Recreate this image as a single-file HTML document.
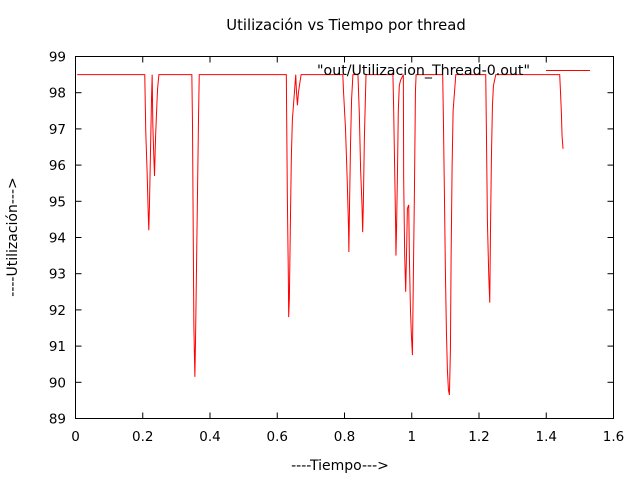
<!DOCTYPE html>
<html><head><meta charset="utf-8"><style>
body{margin:0;background:#fff;}
svg{display:block;font-family:"DejaVu Sans","Liberation Sans",sans-serif;}
</style></head><body>
<svg id="chart" width="640" height="480" xmlns="http://www.w3.org/2000/svg">
<rect width="640" height="480" fill="#fff"/>
<text x="346" y="30" font-size="14.8" text-anchor="middle">Utilización vs Tiempo por thread</text>
<text x="340" y="470" font-size="14" text-anchor="middle">----Tiempo---&gt;</text>
<text transform="translate(17,237) rotate(-90)" font-size="14" text-anchor="middle">----Utilización---&gt;</text>
<g id="axes"></g>
<path id="series" fill="none" stroke="#f00" stroke-width="1"/>
<text x="530" y="75" font-size="14.2" text-anchor="end">"out/Utilizacion_Thread-0.out"</text>
<line x1="546" y1="70.5" x2="590" y2="70.5" stroke="#f00"/>
<rect x="75.5" y="56.5" width="538" height="362" fill="none" stroke="#000"/>
</svg>
<script>
const xTicks=[0,0.2,0.4,0.6,0.8,1,1.2,1.4,1.6];
const xTickLabels=["0","0.2","0.4","0.6","0.8","1","1.2","1.4","1.6"];
const yTicks=[89,90,91,92,93,94,95,96,97,98,99];
const yTickLabels=["89","90","91","92","93","94","95","96","97","98","99"];
const times=[0.005,.206,.207,.209,.213,.216,.218,.220,.223,.226,.228,.230,.233,.235,.238,.241,.244,.248,
.346,.348,.350,.352,.355,.357,.360,.363,.366,.368,
.627,.628,.630,.633,.634,.636,.639,.642,.645,.655,.657,.660,.663,.666,.671,
.795,.797,.803,.808,.812,.813,.815,.818,.821,.825,
.840,.844,.848,.852,.854,.856,.859,.862,.864,
.944,.946,.949,.952,.953,.955,.958,.960,.963,.967,
.975,.976,.979,.982,.985,.987,.991,.993,.996,.999,1.002,1.005,1.008,1.011,1.013,
1.092,1.094,1.097,1.100,1.103,1.106,1.109,1.112,1.115,1.117,1.120,1.123,1.131,
1.220,1.222,1.225,1.229,1.232,1.234,1.237,1.240,1.243,1.250,
1.440,1.442,1.445,1.447,1.450];
const utilization=[98.5,98.5,97.95,96.9,95.8,94.75,94.2,94.9,96.35,97.8,98.5,97.1,96.2,95.7,96.75,97.45,98.1,98.5,
98.5,97.1,94.3,91.55,90.15,91.2,93.25,95.35,97.4,98.5,
98.5,97.35,95.15,92.9,91.8,92.3,94.35,96.25,97.25,98.5,98.05,97.65,98,98.2,98.5,
98.5,98.05,97,95.6,94.25,93.6,94.9,96.6,97.8,98.5,
98.5,97.45,95.85,94.9,94.15,94.9,96.7,97.8,98.5,
98.5,97.65,96,94.35,93.5,94.35,96.1,97.5,98.2,98.35,
98.5,95.6,93.5,92.5,93.8,94.8,94.9,93.45,92.05,91.3,90.75,93.1,95.3,98.05,98.5,
98.5,97.35,95.3,93.1,91.45,90.35,89.8,89.65,90.9,93.4,95.95,97.5,98.5,
98.5,96.95,94.45,92.95,92.2,94.05,96.25,97.65,98.2,98.5,
98.5,98.1,97.45,96.8,96.45];
const X0=75.5,X1=613.5,Y0=418.5,Y1=56.5;
const sx=t=>X0+(t-0)/(1.6-0)*(X1-X0);
const sy=v=>Y0-(v-89)/(99-89)*(Y0-Y1);
const NS="http://www.w3.org/2000/svg";
const axes=document.getElementById('axes');
function mk(tag,attrs){const e=document.createElementNS(NS,tag);for(const k in attrs)e.setAttribute(k,attrs[k]);return e;}
xTicks.forEach((t,i)=>{
 const x=sx(t);
 const a=mk('line',{x1:x,y1:Y0,x2:x,y2:Y0-6,stroke:'#000'});
 
 
 axes.appendChild(a);
 const b=mk('line',{x1:x,y1:Y1,x2:x,y2:Y1+6,stroke:'#000'});
 
 
 axes.appendChild(b);
 const tx=mk('text',{x:x,y:441,'font-size':13.5,'text-anchor':'middle'});
 tx.textContent=xTickLabels[i];
 
 
 axes.appendChild(tx);
});
yTicks.forEach((v,i)=>{
 const y=sy(v);
 const a=mk('line',{x1:X0,y1:y,x2:X0+6,y2:y,stroke:'#000'});
 
 
 axes.appendChild(a);
 const b=mk('line',{x1:X1,y1:y,x2:X1-6,y2:y,stroke:'#000'});
 
 
 axes.appendChild(b);
 const tx=mk('text',{x:66,y:y+5,'font-size':13.5,'text-anchor':'end'});
 tx.textContent=yTickLabels[i];
 
 
 axes.appendChild(tx);
});
let d='';
times.forEach((t,i)=>{d+=(i?'L':'M')+sx(t).toFixed(2)+','+sy(utilization[i]).toFixed(2);});
document.getElementById('series').setAttribute('d',d);
</script>
</body></html>
